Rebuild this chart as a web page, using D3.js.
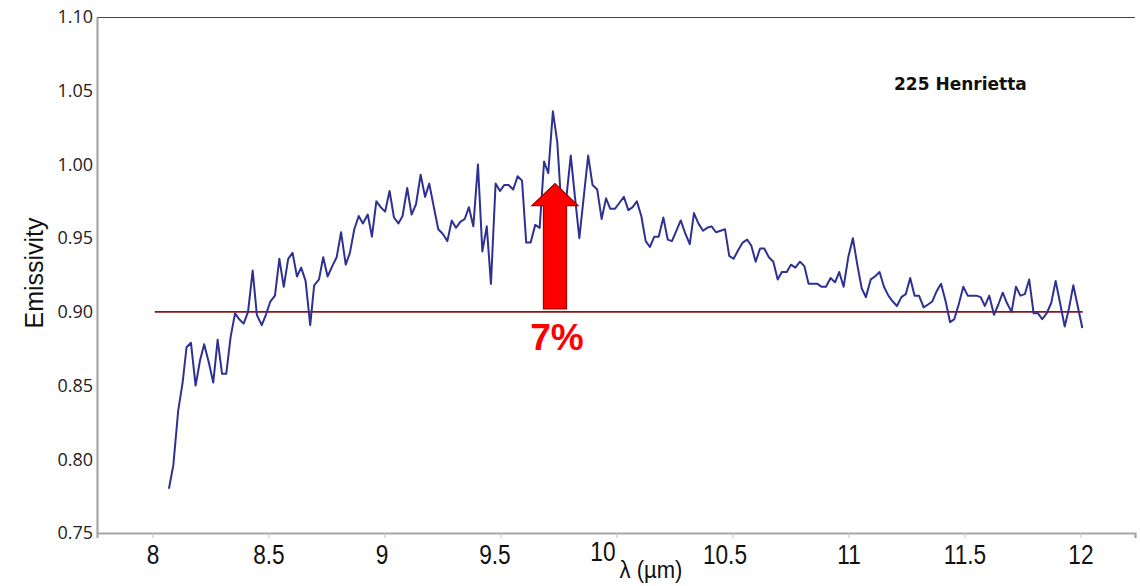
<!DOCTYPE html>
<html>
<head>
<meta charset="utf-8">
<script src="https://cdn.jsdelivr.net/npm/d3@7"></script>
<style>
  html, body { margin: 0; padding: 0; background: #fff; }
  svg { display: block; }
</style>
</head>
<body>
<svg id="chart" width="1140" height="586"></svg>
<script>
// Emissivity spectrum of asteroid 225 Henrietta
const wavelength = [
  8.071, 8.090, 8.111, 8.130, 8.147, 8.166, 8.186, 8.205, 8.223, 8.244,
  8.262, 8.281, 8.300, 8.318, 8.337, 8.356, 8.374, 8.393, 8.412, 8.432,
  8.450, 8.471, 8.489, 8.508, 8.528, 8.547, 8.566, 8.585, 8.604, 8.623,
  8.641, 8.660, 8.680, 8.697, 8.718, 8.736, 8.755, 8.775, 8.794, 8.813,
  8.833, 8.851, 8.870, 8.889, 8.907, 8.928, 8.946, 8.965, 8.984, 9.003,
  9.022, 9.041, 9.060, 9.078, 9.098, 9.117, 9.136, 9.156, 9.175, 9.193,
  9.213, 9.232, 9.251, 9.271, 9.290, 9.308, 9.327, 9.346, 9.364, 9.383,
  9.403, 9.422, 9.441, 9.459, 9.479, 9.498, 9.516, 9.535, 9.555, 9.574,
  9.593, 9.611, 9.630, 9.650, 9.669, 9.688, 9.706, 9.726, 9.745, 9.769,
  9.803, 9.821, 9.840, 9.878, 9.897, 9.917, 9.936, 9.955, 9.973, 9.994,
  10.013, 10.032, 10.051, 10.070, 10.088, 10.107, 10.126, 10.144, 10.163, 10.182,
  10.202, 10.221, 10.239, 10.258, 10.277, 10.297, 10.316, 10.334, 10.353, 10.373,
  10.391, 10.410, 10.429, 10.449, 10.468, 10.486, 10.505, 10.525, 10.544, 10.563,
  10.581, 10.600, 10.619, 10.637, 10.657, 10.676, 10.695, 10.713, 10.734, 10.752,
  10.771, 10.791, 10.810, 10.828, 10.847, 10.866, 10.885, 10.903, 10.923, 10.942,
  10.960, 10.979, 10.999, 11.019, 11.038, 11.057, 11.075, 11.096, 11.114, 11.134,
  11.153, 11.172, 11.191, 11.209, 11.228, 11.247, 11.266, 11.285, 11.304, 11.324,
  11.343, 11.361, 11.380, 11.399, 11.419, 11.438, 11.456, 11.475, 11.495, 11.514,
  11.532, 11.551, 11.570, 11.588, 11.607, 11.627, 11.646, 11.665, 11.683, 11.703,
  11.722, 11.741, 11.760, 11.779, 11.798, 11.817, 11.835, 11.854, 11.874, 11.893,
  11.912, 11.932, 11.950, 11.969, 11.988, 12.008
];

const emissivity = [
  0.780, 0.796, 0.833, 0.852, 0.876, 0.879, 0.850, 0.867, 0.878, 0.865,
  0.852, 0.881, 0.858, 0.858, 0.883, 0.899, 0.895, 0.892, 0.900, 0.928,
  0.898, 0.891, 0.898, 0.907, 0.911, 0.936, 0.917, 0.936, 0.940, 0.924,
  0.930, 0.921, 0.891, 0.918, 0.922, 0.937, 0.924, 0.931, 0.937, 0.954,
  0.932, 0.940, 0.956, 0.965, 0.960, 0.966, 0.951, 0.975, 0.971, 0.968,
  0.982, 0.964, 0.960, 0.965, 0.984, 0.966, 0.973, 0.993, 0.978, 0.987,
  0.971, 0.956, 0.953, 0.948, 0.962, 0.957, 0.961, 0.963, 0.971, 0.958,
  1.000, 0.941, 0.958, 0.919, 0.987, 0.982, 0.986, 0.986, 0.983, 0.992,
  0.989, 0.947, 0.947, 0.959, 0.957, 1.002, 0.994, 1.036, 1.015, 0.955,
  1.006, 0.978, 0.950, 1.006, 0.986, 0.983, 0.963, 0.977, 0.970, 0.970,
  0.974, 0.978, 0.969, 0.971, 0.975, 0.965, 0.948, 0.944, 0.951, 0.951,
  0.964, 0.949, 0.948, 0.955, 0.962, 0.953, 0.946, 0.967, 0.960, 0.955,
  0.957, 0.958, 0.954, 0.955, 0.956, 0.938, 0.936, 0.942, 0.947, 0.949,
  0.945, 0.934, 0.943, 0.943, 0.937, 0.934, 0.922, 0.927, 0.927, 0.932,
  0.930, 0.934, 0.931, 0.919, 0.919, 0.919, 0.917, 0.917, 0.923, 0.920,
  0.927, 0.917, 0.937, 0.950, 0.932, 0.916, 0.910, 0.922, 0.924, 0.927,
  0.917, 0.911, 0.907, 0.904, 0.910, 0.912, 0.923, 0.911, 0.911, 0.903,
  0.905, 0.907, 0.914, 0.919, 0.907, 0.893, 0.895, 0.905, 0.917, 0.911,
  0.911, 0.911, 0.910, 0.904, 0.911, 0.898, 0.905, 0.913, 0.906, 0.900,
  0.917, 0.911, 0.912, 0.922, 0.899, 0.899, 0.895, 0.899, 0.906, 0.921,
  0.906, 0.890, 0.902, 0.918, 0.904, 0.889
];

const xTicks = [8, 8.5, 9, 9.5, 10, 10.5, 11, 11.5, 12];
const xTickLabels = ["8", "8.5", "9", "9.5", "10", "10.5", "11", "11.5", "12"];
const yTicks = [0.75, 0.80, 0.85, 0.90, 0.95, 1.00, 1.05, 1.10];
const yTickLabels = ["0.75", "0.80", "0.85", "0.90", "0.95", "1.00", "1.05", "1.10"];

// reference level and its span
const baselineLevel = [0.90];
const baselineSpan = [8.01, 12.01];

// the rise marked by the arrow
const riseLabel = "7%";
const riseFrom = 0.902;
const riseTo = 0.987;
const riseAt = 9.735;

const svg = d3.select("#chart");
const plot = { left: 97, right: 1135, top: 17, bottom: 533 };

const x = d3.scaleLinear().domain([7.761, 12.235]).range([plot.left, plot.right]);
const y = d3.scaleLinear().domain([0.75, 1.10]).range([plot.bottom, plot.top]);

// top frame line
svg.append("line")
  .attr("x1", plot.left).attr("x2", plot.right)
  .attr("y1", plot.top + 0.5).attr("y2", plot.top + 0.5)
  .attr("stroke", "#444").attr("stroke-width", 1);

// y axis
const yAxis = svg.append("g")
  .attr("transform", `translate(${plot.left},0)`)
  .call(d3.axisLeft(y).tickValues(yTicks)
    .tickFormat((d, i) => yTickLabels[i]).tickSize(0).tickPadding(4));
yAxis.select(".domain").attr("stroke", "#a6a6a6").attr("stroke-width", 2.2);
yAxis.selectAll("text")
  .attr("font-family", "'Open Sans', 'Liberation Sans', sans-serif")
  .attr("font-size", 18).attr("fill", "#222");

// x axis; a few labels sit slightly off their ticks around the axis title
const labelShift = { "9": [-3, 0], "9.5": [-6, 0], "10": [-14, -3], "10.5": [-8, 0] };
const xAxis = svg.append("g")
  .attr("transform", `translate(0,${plot.bottom})`)
  .call(d3.axisBottom(x).tickValues(xTicks)
    .tickFormat((d, i) => xTickLabels[i]).tickSize(5).tickPadding(7));
xAxis.select(".domain").attr("stroke", "#a6a6a6").attr("stroke-width", 2.2);
xAxis.selectAll(".tick line").attr("stroke", "#c4c4c4");
xAxis.selectAll("text")
  .attr("font-family", "'Liberation Sans', sans-serif")
  .attr("font-size", 27).attr("fill", "#111")
  .attr("dy", "0.72em")
  .attr("transform", function () {
    const s = labelShift[this.textContent] || [0, 0];
    return `translate(${s[0]},${s[1]}) scale(0.84,1)`;
  });

// axis titles
svg.append("text")
  .attr("transform", `translate(43,${(plot.top + plot.bottom) / 2 - 2}) rotate(-90)`)
  .attr("text-anchor", "middle")
  .attr("font-family", "'Liberation Sans', sans-serif")
  .attr("font-size", 25).attr("fill", "#111")
  .text("Emissivity");

svg.append("text")
  .attr("x", 651).attr("y", 578)
  .attr("text-anchor", "middle")
  .attr("font-family", "'Liberation Sans', sans-serif")
  .attr("font-size", 24).attr("fill", "#111")
  .attr("transform", "translate(651,0) scale(0.92,1) translate(-651,0)")
  .text("λ (µm)");

// 0.90 reference line
svg.selectAll(".baseline").data(baselineLevel).enter().append("line")
  .attr("class", "baseline")
  .attr("x1", x(baselineSpan[0])).attr("x2", x(baselineSpan[1]))
  .attr("y1", d => y(d)).attr("y2", d => y(d))
  .attr("stroke", "#8b1414").attr("stroke-width", 1.6);

// spectrum
const points = wavelength.map((w, i) => [w, emissivity[i]]);
svg.append("path")
  .datum(points)
  .attr("fill", "none")
  .attr("stroke", "#2e3192")
  .attr("stroke-width", 2)
  .attr("stroke-linejoin", "round")
  .attr("d", d3.line().x(d => x(d[0])).y(d => y(d[1])));

// arrow marking the rise above the reference level
const shaftHalf = 11.5, headHalf = 23, headLen = 22;
const ax = x(riseAt), yBase = y(riseFrom), yTip = y(riseTo);
const arrowPath = [
  [ax - shaftHalf, yBase], [ax - shaftHalf, yTip + headLen], [ax - headHalf, yTip + headLen],
  [ax, yTip], [ax + headHalf, yTip + headLen], [ax + shaftHalf, yTip + headLen],
  [ax + shaftHalf, yBase]
];
svg.append("path")
  .attr("d", d3.line()(arrowPath) + "Z")
  .attr("fill", "#ff0000")
  .attr("stroke", "#a40000")
  .attr("stroke-width", 1.3);

svg.append("text")
  .attr("x", ax + 2).attr("y", 350)
  .attr("text-anchor", "middle")
  .attr("font-family", "'Liberation Sans', sans-serif")
  .attr("font-weight", "bold")
  .attr("font-size", 37).attr("fill", "#ff0000")
  .text(riseLabel);

// object name
svg.append("text")
  .attr("x", 894).attr("y", 90)
  .attr("font-family", "'DejaVu Sans', sans-serif")
  .attr("font-weight", "bold")
  .attr("font-size", 17).attr("fill", "#111")
  .text("225 Henrietta");
</script>
</body>
</html>
